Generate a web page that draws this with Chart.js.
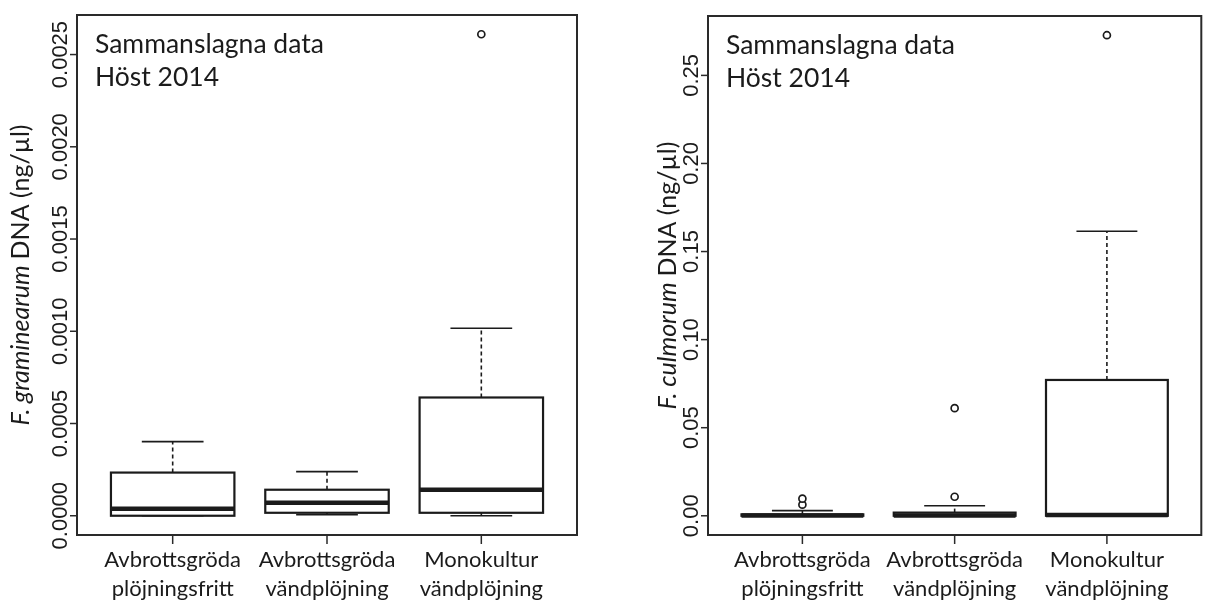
<!DOCTYPE html>
<html>
<head>
<meta charset="utf-8">
<script src="https://cdn.jsdelivr.net/npm/chart.js"></script>
<style>
  body { margin: 0; background: #fff; }
  #wrap { position: relative; width: 1207px; height: 601px; }
  canvas { position: absolute; top: 0; }
</style>
</head>
<body>
<div id="wrap">
  <canvas id="left" width="600" height="601" style="left:0"></canvas>
  <canvas id="right" width="607" height="601" style="left:600px"></canvas>
</div>

<script>
// -- Categories (two-line tick labels) at x = 1, 2, 3.
const categories = [
  ['Avbrottsgröda', 'plöjningsfritt'],
  ['Avbrottsgröda', 'vändplöjning'],
  ['Monokultur', 'vändplöjning'],
];

// -- F. graminearum: five-number summaries and outliers.
const gramMin = [0, 0.000005, 0];
const gramQ1  = [0, 0.000016, 0.000016];
const gramMed = [0.000038, 0.000071, 0.000141];
const gramQ3  = [0.000234, 0.000141, 0.000641];
const gramMax = [0.000402, 0.000239, 0.001016];
const gramOut = [[], [], [0.00261]];
const gramTicks = [0, 0.0005, 0.0010, 0.0015, 0.0020, 0.0025];
const gramTickLabels = ['0.0000', '0.0005', '0.0010', '0.0015', '0.0020', '0.0025'];

// -- F. culmorum: five-number summaries and outliers.
const culmMin = [0, 0, 0];
const culmQ1  = [0, 0, 0];
const culmMed = [0.0002, 0.0002, 0.0004];
const culmQ3  = [0.0008, 0.0018, 0.0771];
const culmMax = [0.0029, 0.0057, 0.1615];
const culmOut = [[0.0063, 0.0097], [0.0108, 0.0611], [0.2728]];
const culmTicks = [0, 0.05, 0.10, 0.15, 0.20, 0.25];
const culmTickLabels = ['0.00', '0.05', '0.10', '0.15', '0.20', '0.25'];

const noteLines = ['Sammanslagna data', 'Höst 2014'];

const INK = '#1b1b1b';
const LABEL_FONT = 'Lato, "Open Sans", sans-serif';
const TICK_FONT = '"Liberation Sans", Arial, sans-serif';

// -- R-style boxplot drawing on top of the chart's own scales.
const boxplotPlugin = {
  id: 'boxplot',
  beforeDatasetsDraw(chart) {
    const {ctx, scales: {x, y}} = chart;
    const o = chart.options.plugins.boxplot;
    ctx.save();
    ctx.strokeStyle = INK;
    for (let i = 0; i < o.q1.length; i++) {
      const c = i + 1;
      const xl = x.getPixelForValue(c - 0.4), xr = x.getPixelForValue(c + 0.4);
      const wl = x.getPixelForValue(c - 0.2), wr = x.getPixelForValue(c + 0.2);
      const xc = x.getPixelForValue(c);
      const pMin = y.getPixelForValue(o.min[i]), pMax = y.getPixelForValue(o.max[i]);
      const pQ1 = y.getPixelForValue(o.q1[i]), pQ3 = y.getPixelForValue(o.q3[i]);
      const pMed = y.getPixelForValue(o.med[i]);

      // whiskers (dashed)
      ctx.lineWidth = 1.6;
      ctx.setLineDash([4, 3]);
      ctx.beginPath();
      ctx.moveTo(xc, pQ3); ctx.lineTo(xc, pMax);
      ctx.moveTo(xc, pQ1); ctx.lineTo(xc, pMin);
      ctx.stroke();
      ctx.setLineDash([]);

      // whisker caps
      ctx.beginPath();
      ctx.moveTo(wl, pMax); ctx.lineTo(wr, pMax);
      ctx.moveTo(wl, pMin); ctx.lineTo(wr, pMin);
      ctx.stroke();

      // box
      ctx.fillStyle = '#fff';
      ctx.fillRect(xl, pQ3, xr - xl, pQ1 - pQ3);
      ctx.lineWidth = 2.2;
      ctx.strokeRect(xl, pQ3, xr - xl, pQ1 - pQ3);

      // median
      ctx.lineWidth = 4.5;
      ctx.beginPath();
      ctx.moveTo(xl, pMed); ctx.lineTo(xr, pMed);
      ctx.stroke();
    }
    ctx.restore();
  },
  afterDraw(chart) {
    const {ctx, chartArea: a, scales: {x, y}} = chart;
    const o = chart.options.plugins.boxplot;
    ctx.save();
    ctx.strokeStyle = '#2a2a2a';
    ctx.fillStyle = INK;

    // frame
    ctx.lineWidth = 2;
    ctx.strokeRect(a.left, a.top, a.right - a.left, a.bottom - a.top);

    // y ticks + rotated labels
    ctx.lineWidth = 1.5;
    ctx.font = o.tickSize + 'px ' + TICK_FONT;
    ctx.textAlign = 'center';
    ctx.textBaseline = 'alphabetic';
    o.ticks.forEach((v, k) => {
      const py = y.getPixelForValue(v);
      ctx.beginPath();
      ctx.moveTo(a.left, py); ctx.lineTo(a.left - 7, py);
      ctx.stroke();
      ctx.save();
      ctx.translate(a.left - 10, py);
      ctx.rotate(-Math.PI / 2);
      ctx.fillText(o.tickLabels[k], 0, 0);
      ctx.restore();
    });

    // x ticks + two-line labels
    ctx.font = '22px ' + LABEL_FONT;
    categories.forEach((lines, i) => {
      const px = x.getPixelForValue(i + 1);
      ctx.beginPath();
      ctx.moveTo(px, a.bottom); ctx.lineTo(px, a.bottom + 9);
      ctx.stroke();
      lines.forEach((t, j) => ctx.fillText(t, px, a.bottom + 32 + j * 29));
    });

    // y axis title: italic species name + plain unit
    const italic = 'italic 25px ' + LABEL_FONT, plain = '25px ' + LABEL_FONT;
    ctx.font = italic;
    const w1 = ctx.measureText(o.species + ' ').width;
    ctx.font = plain;
    const w2 = ctx.measureText('DNA (ng/µl)').width;
    ctx.save();
    ctx.translate(o.titleX, (a.top + a.bottom) / 2);
    ctx.rotate(-Math.PI / 2);
    ctx.textAlign = 'left';
    ctx.font = italic;
    ctx.fillText(o.species + ' ', -(w1 + w2) / 2, 0);
    ctx.font = plain;
    ctx.fillText('DNA (ng/µl)', -(w1 + w2) / 2 + w1, 0);
    ctx.restore();

    // note in upper left corner
    ctx.textAlign = 'left';
    ctx.font = '26.5px ' + LABEL_FONT;
    noteLines.forEach((t, j) => ctx.fillText(t, a.left + 18, a.top + 38 + j * 33));
    ctx.restore();
  },
};

// -- Outlier points as a scatter dataset.
const outlierPoints = (out) =>
  out.flatMap((vals, i) => vals.map(v => ({x: i + 1, y: v})));

// -- R extends the data range by 4 % on each side.
const rRange = (lo, hi) => {
  const d = (hi - lo) * 0.04;
  return {min: lo - d, max: hi + d};
};

const makePanel = (id, padding, s) => {
  const lo = Math.min(...s.min), hi = Math.max(...s.max, ...s.out.flat());
  const yr = rRange(lo, hi);
  return new Chart(document.getElementById(id), {
    type: 'scatter',
    data: {
      datasets: [{
        data: outlierPoints(s.out),
        pointRadius: 3.5,
        pointBorderWidth: 1.7,
        pointBackgroundColor: '#fff',
        pointBorderColor: INK,
      }],
    },
    options: {
      responsive: false,
      animation: false,
      layout: {padding},
      scales: {
        x: {type: 'linear', min: 0.38, max: 3.62, display: false},
        y: {type: 'linear', min: yr.min, max: yr.max, display: false},
      },
      plugins: {
        legend: {display: false},
        tooltip: {enabled: false},
        boxplot: s,
      },
    },
    plugins: [boxplotPlugin],
  });
};

makePanel('left', {left: 77, right: 23, top: 15, bottom: 66}, {
  min: gramMin, q1: gramQ1, med: gramMed, q3: gramQ3, max: gramMax, out: gramOut,
  ticks: gramTicks, tickLabels: gramTickLabels, tickSize: 22,
  species: 'F. graminearum', titleX: 29,
});

makePanel('right', {left: 108, right: 1, top: 16, bottom: 66}, {
  min: culmMin, q1: culmQ1, med: culmMed, q3: culmQ3, max: culmMax, out: culmOut,
  ticks: culmTicks, tickLabels: culmTickLabels, tickSize: 22,
  species: 'F. culmorum', titleX: 76,
});
</script>
</body>
</html>
